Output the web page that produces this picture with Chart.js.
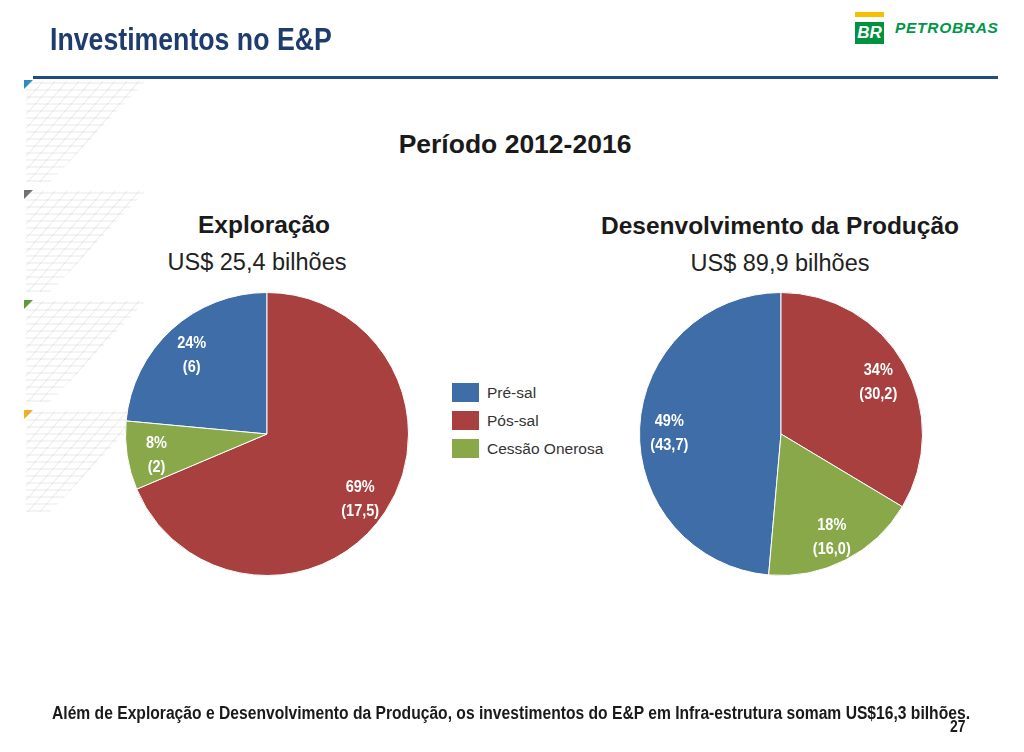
<!DOCTYPE html>
<html lang="pt-BR">
<head>
<meta charset="utf-8">
<title>Investimentos no E&amp;P</title>
<script src="https://cdn.jsdelivr.net/npm/chart.js@4.4.1/dist/chart.umd.min.js"></script>
<style>
html, body { margin: 0; padding: 0; background: #fff; }
body { width: 1024px; height: 752px; position: relative; overflow: hidden;
       font-family: "Liberation Sans", Arial, sans-serif; color: #1a1a1a; }
.abs { position: absolute; white-space: nowrap; }
.center { transform: translateX(-50%); }
#bg { position: absolute; left: 0; top: 0; }
#title { left: 50px; top: 22px; font-size: 30.5px; font-weight: bold; color: #1F3C6E;
         transform: scaleX(0.875); transform-origin: 0 0; }
#rule { left: 33px; top: 76px; width: 965px; height: 3px; background: #214C82; }
#logoBar { left: 855px; top: 12px; width: 29px; height: 5px; background: #F5C000; }
#logoBox { left: 855px; top: 22px; width: 29px; height: 22px; background: #00923F; color: #fff;
           font: italic bold 17px "Liberation Sans", Arial, sans-serif; line-height: 22px; text-align: center; }
#logoText { left: 895px; top: 19px; font: italic bold 15.5px "Liberation Sans", Arial, sans-serif;
            letter-spacing: 0.7px; color: #00964A; }
#periodo { left: 515px; top: 129px; font-size: 26.5px; font-weight: bold; }
.head { font-size: 24.5px; font-weight: bold; }
.sub { font-size: 23.5px; color: #222; }
canvas.pie { position: absolute; }
.sw { position: absolute; left: 452px; width: 27px; height: 19px; }
.lg { position: absolute; left: 487px; font-size: 15.5px; color: #333; line-height: 19px; }
#footer { left: 52px; top: 703px; font-size: 18px; font-weight: bold; transform-origin: 0 0; }
#page { left: 950px; top: 717px; font-size: 17px; font-weight: bold; transform: scaleX(0.82); transform-origin: 0 0; }
</style>
</head>
<body>
<canvas id="bg" width="160" height="752"></canvas>
<div class="abs" id="title">Investimentos no E&amp;P</div>
<div class="abs" id="rule"></div>
<div class="abs" id="logoBar"></div>
<div class="abs" id="logoBox">BR</div>
<div class="abs" id="logoText">PETROBRAS</div>

<div class="abs center" id="periodo">Período 2012-2016</div>

<div class="abs center head" style="left:264px; top:211px;">Exploração</div>
<div class="abs center sub" style="left:257px; top:249px;">US$ 25,4 bilhões</div>
<div class="abs center head" style="left:780px; top:212px;">Desenvolvimento da Produção</div>
<div class="abs center sub" style="left:780px; top:250px;">US$ 89,9 bilhões</div>

<canvas class="pie" id="pieExploracao" width="292" height="292" style="left:121px; top:288px;"></canvas>
<canvas class="pie" id="pieProducao" width="292" height="292" style="left:635px; top:288px;"></canvas>

<div id="legend"></div>

<div class="abs" id="footer">Além de Exploração e Desenvolvimento da Produção, os investimentos do E&amp;P em Infra-estrutura somam US$16,3 bilhões.</div>
<div class="abs" id="page">27</div>

<script>
// valores em US$ bilhões
const categories = ['Pré-sal', 'Pós-sal', 'Cessão Onerosa'];
const exploracaoValues = [6, 17.5, 2];
const producaoValues = [43.7, 30.2, 16.0];
const sliceColors = ['#3F6DA8', '#A8403F', '#88A84A'];

// faixas decorativas da esquerda
function drawBackground() {
    const c = document.getElementById('bg').getContext('2d');
    const marks = ['#2B8CC4', '#707070', '#5E9A35', '#F0B020'];
    [80, 190, 300, 410].forEach((y0, n) => {
        c.fillStyle = marks[n];
        c.beginPath();
        c.moveTo(24, y0); c.lineTo(33, y0); c.lineTo(24, y0 + 9);
        c.closePath(); c.fill();

        c.save();
        c.beginPath();
        c.moveTo(26, y0 + 1); c.lineTo(146, y0 + 1); c.lineTo(50, y0 + 102); c.lineTo(26, y0 + 102);
        c.closePath(); c.clip();
        c.strokeStyle = 'rgba(150,150,150,0.27)';
        c.lineWidth = 0.8;
        for (let y = y0 + 3; y < y0 + 104; y += 7) {
            c.beginPath(); c.moveTo(26, y); c.lineTo(150, y); c.stroke();
        }
        for (let x = 20; x < 260; x += 12) {
            c.beginPath(); c.moveTo(x, y0); c.lineTo(x - 90, y0 + 104); c.stroke();
        }
        c.restore();
    });
}

// rótulos dentro das fatias: "xx%" e "(valor)"
const sliceLabels = {
    id: 'sliceLabels',
    afterDatasetsDraw(chart, args, opts) {
        const ctx = chart.ctx;
        const data = chart.data.datasets[0].data;
        const total = data.reduce((a, b) => a + b, 0);
        chart.getDatasetMeta(0).data.forEach((arc, i) => {
            const mid = (arc.startAngle + arc.endAngle) / 2;
            const r = arc.outerRadius * 0.79;
            const x = arc.x + Math.cos(mid) * r;
            const y = arc.y + Math.sin(mid) * r + 4;
            const pct = Math.round(data[i] / total * 100) + '%';
            const num = opts.decimals == null ? String(data[i]) : data[i].toFixed(opts.decimals);
            ctx.save();
            ctx.translate(x, y);
            ctx.scale(0.88, 1);
            ctx.fillStyle = '#fff';
            ctx.font = 'bold 16.5px "Liberation Sans", Arial, sans-serif';
            ctx.textAlign = 'center';
            ctx.textBaseline = 'middle';
            ctx.fillText(pct, 0, -12);
            ctx.fillText('(' + num.replace('.', ',') + ')', 0, 12);
            ctx.restore();
        });
    }
};

function makePie(id, values, decimals) {
    const total = values.reduce((a, b) => a + b, 0);
    return new Chart(document.getElementById(id), {
        type: 'pie',
        data: {
            labels: categories,
            datasets: [{
                data: values,
                backgroundColor: sliceColors,
                borderColor: '#fff',
                borderWidth: 1
            }]
        },
        options: {
            responsive: false,
            animation: false,
            // Pré-sal termina às 12h, Pós-sal começa às 12h
            rotation: -values[0] / total * 360,
            layout: { padding: 4 },
            plugins: {
                legend: { display: false },
                tooltip: { enabled: false },
                sliceLabels: { decimals: decimals }
            }
        },
        plugins: [sliceLabels]
    });
}

function buildLegend() {
    const box = document.getElementById('legend');
    categories.forEach((name, i) => {
        const top = 383 + i * 28;
        const sw = document.createElement('div');
        sw.className = 'sw';
        sw.style.top = top + 'px';
        sw.style.background = sliceColors[i];
        box.appendChild(sw);
        const lg = document.createElement('div');
        lg.className = 'lg';
        lg.style.top = top + 'px';
        lg.textContent = name;
        box.appendChild(lg);
    });
}

function fitFooter() {
    const f = document.getElementById('footer');
    const w = f.offsetWidth;
    f.style.transform = 'scaleX(' + (918 / w) + ')';
}

drawBackground();
buildLegend();
makePie('pieExploracao', exploracaoValues, null);
makePie('pieProducao', producaoValues, 1);
fitFooter();
</script>
</body>
</html>
